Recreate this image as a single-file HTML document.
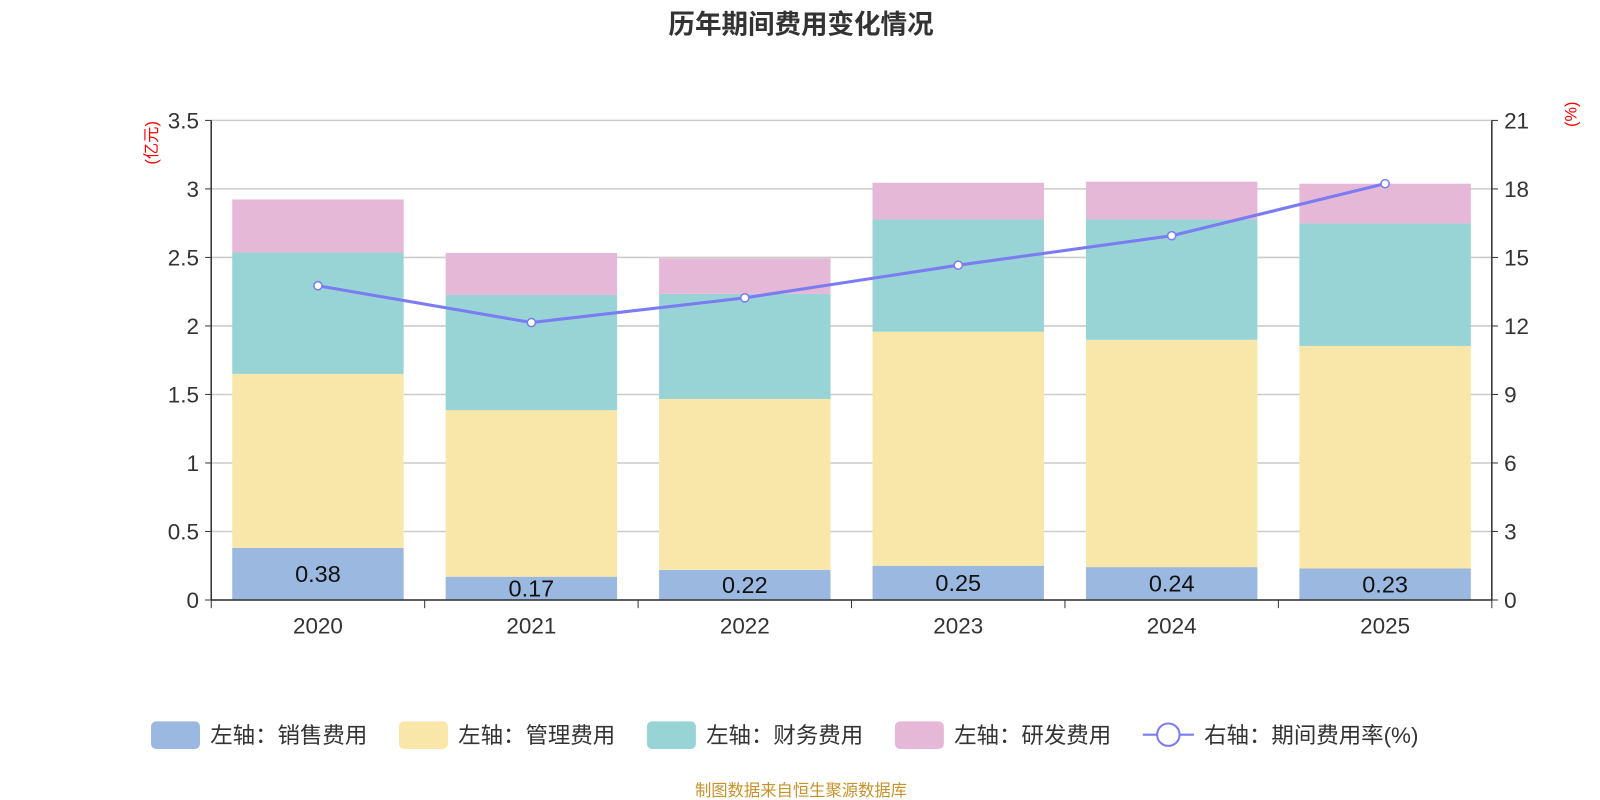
<!DOCTYPE html>
<html><head><meta charset="utf-8"><style>
html,body{margin:0;padding:0;background:#fff;width:1600px;height:800px;overflow:hidden}
svg text{font-family:"Liberation Sans","Noto Sans CJK SC",sans-serif}
</style></head><body>
<svg width="1600" height="800" xmlns="http://www.w3.org/2000/svg"><g id="chart" transform="scale(1.0204)"></g></svg>
<script>
const categories = ['2020','2021','2022','2023','2024','2025'];
const salesValues = [0.38,0.17,0.22,0.25,0.24,0.23];
const mgmtValues = [1.27,1.215,1.247,1.708,1.659,1.624];
const finValues = [0.886,0.841,0.767,0.819,0.878,0.894];
const rdValues = [0.387,0.306,0.26,0.268,0.276,0.29];
const rateValues = [13.76,12.15,13.23,14.66,15.95,18.23];
const leftTicks = ['0','0.5','1','1.5','2','2.5','3','3.5'];
const rightTicks = ['0','3','6','9','12','15','18','21'];

const svg = document.getElementById('chart');
const NS = 'http://www.w3.org/2000/svg';
const L = 207, R = 1462, T = 118, B = 588;
const yL = v => B - v / 3.5 * (B - T);
const yR = v => B - v / 21 * (B - T);
const band = (R - L) / categories.length;
const xC = i => L + band * (i + 0.5);
const barW = 168;
function mk(tag, attrs, text) {
  const e = document.createElementNS(NS, tag);
  for (const k in attrs) e.setAttribute(k, attrs[k]);
  if (text !== undefined) e.textContent = text;
  svg.appendChild(e);
  return e;
}
let t = mk('text', {x: 785, y: 33, 'text-anchor': 'middle', 'font-size': 26, 'font-weight': 'bold', fill: '#333'}, '历年期间费用变化情况');


leftTicks.forEach(s => {
  const v = parseFloat(s), y = yL(v);
  const g = mk('line', {x1: L, x2: R, y1: y, y2: y, stroke: '#ccc', 'stroke-width': 1.5});
  
  
  mk('line', {x1: L - 6, x2: L, y1: y, y2: y, stroke: '#333'});
  const tx = mk('text', {x: L - 12, y: y + 8, 'text-anchor': 'end', 'font-size': 22, fill: '#333'}, s);
  
  
});
rightTicks.forEach(s => {
  const v = parseFloat(s), y = yR(v);
  mk('line', {x1: R, x2: R + 6, y1: y, y2: y, stroke: '#333'});
  const tx = mk('text', {x: R + 12, y: y + 8, 'text-anchor': 'start', 'font-size': 22, fill: '#333'}, s);
  
  
});
let u1 = mk('text', {x: 154, y: 140, 'text-anchor': 'middle', 'font-size': 16, fill: 'red', transform: 'rotate(-90 154 140)'}, '(亿元)');


let u2 = mk('text', {x: 1545, y: 112, 'text-anchor': 'middle', 'font-size': 16, fill: 'red', transform: 'rotate(-90 1545 112)'}, '(%)');


const series = [
  {vals: salesValues, color: '#9bb8e1', name: 'bar-sales'},
  {vals: mgmtValues, color: '#f8e7a9', name: 'bar-management'},
  {vals: finValues, color: '#98d4d5', name: 'bar-finance'},
  {vals: rdValues, color: '#e6b8d7', name: 'bar-rnd'}
];
categories.forEach((c, i) => {
  let base = 0;
  series.forEach(s => {
    const v = s.vals[i];
    const y1 = yL(base + v), y0 = yL(base);
    const r = mk('rect', {x: xC(i) - barW / 2, y: y1, width: barW, height: y0 - y1, fill: s.color});
    
    
    base += v;
  });
  const lb = mk('text', {x: xC(i), y: (yL(salesValues[i]) + B) / 2 + 8, 'text-anchor': 'middle', 'font-size': 23, fill: '#111'}, salesValues[i].toFixed(2));
  
  
  const xl = mk('text', {x: xC(i), y: B + 33, 'text-anchor': 'middle', 'font-size': 22, fill: '#333'}, c);
  
  
});
mk('line', {x1: L, x2: R, y1: B, y2: B, stroke: '#333', 'stroke-width': 1.5});
for (let i = 0; i <= categories.length; i++) mk('line', {x1: L + band * i, x2: L + band * i, y1: B, y2: B + 8, stroke: '#333'});
mk('line', {x1: L, x2: L, y1: T, y2: B, stroke: '#333', 'stroke-width': 1.5});
mk('line', {x1: R, x2: R, y1: T, y2: B, stroke: '#333', 'stroke-width': 1.5});
const pts = rateValues.map((v, i) => xC(i) + ',' + yR(v)).join(' ');
const pl = mk('polyline', {points: pts, fill: 'none', stroke: '#7b7bf2', 'stroke-width': 3});


rateValues.forEach((v, i) => {
  const c = mk('circle', {cx: xC(i), cy: yR(v), r: 4, fill: '#fff', stroke: '#7b7bf2', 'stroke-width': 1.5});
  
  
});
const leg = [
  {x: 148, color: '#9bb8e1', label: '左轴：销售费用'},
  {x: 391, color: '#f8e7a9', label: '左轴：管理费用'},
  {x: 634, color: '#98d4d5', label: '左轴：财务费用'},
  {x: 877, color: '#e6b8d7', label: '左轴：研发费用'}
];
leg.forEach(l => {
  const r = mk('rect', {x: l.x, y: 707, width: 48, height: 27, rx: 5, fill: l.color});
  
  
  const tx = mk('text', {x: l.x + 58, y: 728, 'font-size': 22, fill: '#333'}, l.label);
  
  
});
mk('line', {x1: 1120, x2: 1170, y1: 720, y2: 720, stroke: '#7b7bf2', 'stroke-width': 2});
const lc = mk('circle', {cx: 1145, cy: 720, r: 11, fill: '#fff', stroke: '#7b7bf2', 'stroke-width': 2});


const lt = mk('text', {x: 1180, y: 728, 'font-size': 22, fill: '#333'}, '右轴：期间费用率(%)');


const ft = mk('text', {x: 785, y: 780, 'text-anchor': 'middle', 'font-size': 16, fill: '#c8922a'}, '制图数据来自恒生聚源数据库');


</script>
</body></html>
